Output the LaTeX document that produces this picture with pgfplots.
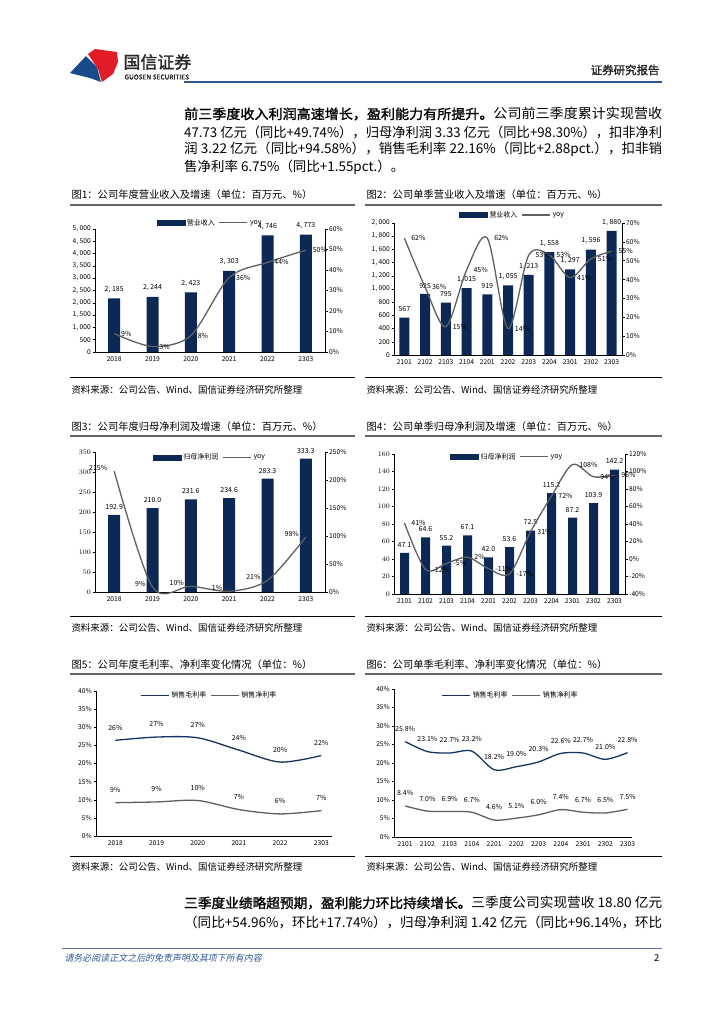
\documentclass[border=0pt]{standalone}
\usepackage{fontspec}
\setmainfont{Noto Sans CJK SC}[BoldFont=Noto Sans CJK SC, BoldFeatures={FakeBold=1.5}, ItalicFont=Noto Sans CJK SC, ItalicFeatures={FakeSlant=0.2}]
\usepackage{pgfplots}
\pgfplotsset{compat=1.18}
\newcommand{\fs}[1]{\fontsize{#1}{#1}\selectfont}
\definecolor{navy}{RGB}{12,40,84}
\definecolor{lgray}{RGB}{96,96,96}
\definecolor{lnavy}{RGB}{22,52,98}
\definecolor{hblue}{RGB}{45,85,150}
\definecolor{lred}{RGB}{225,30,40}
\definecolor{lblue}{RGB}{25,75,140}

\pgfplotsset{
  cbase/.style={scale only axis, anchor=south west, clip=false,
    axis line style={black,line width=0.6bp},
    tick style={black,line width=0.5bp}, major tick length=2.5bp, tick align=outside,
    ticklabel style={font=\fs{6.7}, inner sep=1.5bp},
    xtick style={draw=none}},
  legs/.style={legend style={draw=none, fill=none, font=\fs{7}, legend columns=2, anchor=center,
    inner sep=0pt, /tikz/every even column/.append style={column sep=2bp}}},
  barax/.style={cbase, axis x line*=bottom, axis y line*=left, ybar,
    nodes near coords, point meta=explicit symbolic,
    every node near coord/.append style={font=\fs{7}, text=black, yshift=2bp}},
  lineax/.style={cbase, legs, axis y line*=right, hide x axis, point meta=explicit symbolic},
  barleg/.style={legend image code/.code={\fill[navy] (0bp,-2.5bp) rectangle (28bp,2.5bp);}},
  gline/.style={lgray, line width=1.3bp, smooth,
    legend image code/.code={\draw[lgray,line width=1.2bp] (0bp,0bp) -- (28bp,0bp);}},
  nline/.style={lnavy, line width=1.3bp, smooth,
    legend image code/.code={\draw[lnavy,line width=1.2bp] (0bp,0bp) -- (28bp,0bp);}},
  labr/.style={nodes near coords, every node near coord/.append style={anchor=west, xshift=3bp, font=\fs{7}, text=black}},
  labl/.style={nodes near coords, every node near coord/.append style={anchor=east, xshift=-3bp, yshift=3bp, font=\fs{7}, text=black}},
  labu/.style={nodes near coords, every node near coord/.append style={anchor=south, yshift=6bp, font=\fs{7}, text=black}},
}

\begin{document}
\begin{tikzpicture}[x=1bp,y=-1bp]
\fill[white] (0,0) rectangle (724,1024);
\path[use as bounding box] (0,0) rectangle (724,1024);

% header
\fill[lblue] (70,73) -- (86,56) -- (97,67) -- (101,82) -- (90,78) -- cycle;
\fill[lred] (88,54) -- (95,49) -- (117,52) -- (118,62) -- (113,74) -- (102,82) -- (98,69) -- cycle;
\node[anchor=west, font=\fs{17}\bfseries, text=black!85] at (120,62) {国信证券};
\node[anchor=west, font=\fs{6.6}\bfseries, text=black!85] at (121,77) {GUOSEN SECURITIES};
\node[anchor=east, font=\fs{11.5}\bfseries, text=black!85] at (663,70) {证券研究报告};
\draw[hblue, line width=1.5bp] (184,82) -- (662,82);

% paragraph 1
\node[anchor=west, inner sep=0pt] at (184,114) {\resizebox{478bp}{\height}{\fs{13.5}{\bfseries 前三季度收入利润高速增长，盈利能力有所提升。}公司前三季度累计实现营收}};
\node[anchor=west, inner sep=0pt] at (184,132) {\resizebox{478bp}{\height}{\fs{13.5}47.73 亿元（同比+49.74\%），归母净利润 3.33 亿元（同比+98.30\%），扣非净利}};
\node[anchor=west, inner sep=0pt] at (184,149.5) {\resizebox{478bp}{\height}{\fs{13.5}润 3.22 亿元（同比+94.58\%），销售毛利率 22.16\%（同比+2.88pct.），扣非销}};
\node[anchor=west, inner sep=0pt] at (184,167) {\fs{13.5}售净利率 6.75\%（同比+1.55pct.）。};

% frames and titles
\foreach \xa/\xb in {70/355, 365/662} {
  \draw[black!60, line width=1.5bp] (\xa,205) -- (\xb,205);
  \draw[black!60, line width=1.5bp] (\xa,436) -- (\xb,436);
  \draw[black!60, line width=1.5bp] (\xa,674) -- (\xb,674);
  \draw[black, line width=0.8bp] (\xa,377) -- (\xb,377);
  \draw[black, line width=0.8bp] (\xa,616) -- (\xb,616);
  \draw[black, line width=0.8bp] (\xa,856) -- (\xb,856);
  \node[anchor=west, font=\fs{9.5}] at (\xa-2,390) {资料来源：公司公告、Wind、国信证券经济研究所整理};
  \node[anchor=west, font=\fs{9.5}] at (\xa-2,628) {资料来源：公司公告、Wind、国信证券经济研究所整理};
  \node[anchor=west, font=\fs{9.5}] at (\xa-2,867) {资料来源：公司公告、Wind、国信证券经济研究所整理};
}
\node[anchor=west, font=\fs{10.3}] at (68,195) {图1：公司年度营业收入及增速（单位：百万元、\%）};
\node[anchor=west, font=\fs{10.3}] at (363,195) {图2：公司单季营业收入及增速（单位：百万元、\%）};
\node[anchor=west, font=\fs{10.3}] at (68,427) {图3：公司年度归母净利润及增速（单位：百万元、\%）};
\node[anchor=west, font=\fs{10.3}] at (363,427) {图4：公司单季归母净利润及增速（单位：百万元、\%）};
\node[anchor=west, font=\fs{10.3}] at (68,665) {图5：公司年度毛利率、净利率变化情况（单位：\%）};
\node[anchor=west, font=\fs{10.3}] at (363,665) {图6：公司单季毛利率、净利率变化情况（单位：\%）};

% chart 1
\begin{axis}[barax, at={(95bp,-352bp)}, width=230bp, height=123bp,
  xmin=-0.5, xmax=5.5, ymin=0, ymax=5000, bar width=12bp,
  xtick={0,...,5}, xticklabels={2018,2019,2020,2021,2022,2303},
  ytick={0,500,...,5000},
  yticklabels={0,500,{1, 000},{1, 500},{2, 000},{2, 500},{3, 000},{3, 500},{4, 000},{4, 500},{5, 000}}]
\addplot[fill=navy, draw=none] coordinates {(0,2185)[{2, 185}] (1,2244)[{2, 244}] (2,2423)[{2, 423}] (3,3303)[{3, 303}] (4,4746)[{4, 746}] (5,4773)[{4, 773}]};
\end{axis}
\begin{axis}[lineax, at={(95bp,-352bp)}, width=230bp, height=123bp,
  xmin=-0.5, xmax=5.5, ymin=0, ymax=60, ytick={0,10,...,60},
  yticklabels={0\%,10\%,20\%,30\%,40\%,50\%,60\%}, legend style={at={(0.5,1.05)}}]
\addlegendimage{barleg}\addlegendentry{营业收入}
\addplot[gline, labr] coordinates {(0,9)[9\%] (1,2.7)[3\%] (2,8)[8\%] (3,36.3)[36\%] (4,43.7)[44\%] (5,49.7)[50\%]};
\addlegendentry{yoy}
\end{axis}

% chart 2
\begin{axis}[barax, at={(394bp,-355bp)}, width=228bp, height=132bp,
  xmin=-0.5, xmax=10.5, ymin=0, ymax=2000, bar width=10bp,
  xtick={0,...,10}, xticklabels={2101,2102,2103,2104,2201,2202,2203,2204,2301,2302,2303},
  ytick={0,200,...,2000},
  yticklabels={0,200,400,600,800,{1, 000},{1, 200},{1, 400},{1, 600},{1, 800},{2, 000}}]
\addplot[fill=navy, draw=none] coordinates {(0,567)[567] (1,925)[925] (2,795)[795] (3,1015)[{1, 015}] (4,919)[919] (5,1055)[{1, 055}] (6,1213)[{1, 213}] (7,1558)[{1, 558}] (8,1297)[{1, 297}] (9,1596)[{1, 596}] (10,1880)[{1, 880}]};
\end{axis}
\begin{axis}[lineax, at={(394bp,-355bp)}, width=228bp, height=132bp,
  xmin=-0.5, xmax=10.5, ymin=0, ymax=70, ytick={0,10,...,70},
  yticklabels={0\%,10\%,20\%,30\%,40\%,50\%,60\%,70\%}, legend style={at={(0.52,1.06)}}]
\addlegendimage{barleg}\addlegendentry{营业收入}
\addplot[gline, labr] coordinates {(0,62)[62\%] (1,36)[36\%] (2,15)[15\%] (3,45)[45\%] (4,62)[62\%] (5,14)[14\%] (6,53)[53\%] (7,53)[53\%] (8,41)[41\%] (9,51)[51\%] (10,55)[55\%]};
\addlegendentry{yoy}
\end{axis}

% chart 3
\begin{axis}[barax, at={(95bp,-592bp)}, width=230bp, height=140bp,
  xmin=-0.5, xmax=5.5, ymin=0, ymax=350, bar width=12bp,
  xtick={0,...,5}, xticklabels={2018,2019,2020,2021,2022,2303},
  ytick={0,50,...,350}]
\addplot[fill=navy, draw=none] coordinates {(0,192.9)[192.9] (1,210.0)[210.0] (2,231.6)[231.6] (3,234.6)[234.6] (4,283.3)[283.3] (5,333.3)[333.3]};
\end{axis}
\begin{axis}[lineax, at={(95bp,-592bp)}, width=230bp, height=140bp,
  xmin=-0.5, xmax=5.5, ymin=0, ymax=250, ytick={0,50,...,250},
  yticklabels={0\%,50\%,100\%,150\%,200\%,250\%}, legend style={at={(0.5,0.96)}}]
\addlegendimage{barleg}\addlegendentry{归母净利润}
\addplot[gline, labl] coordinates {(0,216)[215\%] (1,8.9)[9\%] (2,10.3)[10\%] (3,1.3)[1\%] (4,20.8)[21\%] (5,98.3)[98\%]};
\addlegendentry{yoy}
\end{axis}

% chart 4
\begin{axis}[barax, at={(394bp,-594bp)}, width=231bp, height=140bp,
  xmin=-0.5, xmax=10.5, ymin=0, ymax=160, bar width=9bp,
  xtick={0,...,10}, xticklabels={2101,2102,2103,2104,2201,2202,2203,2204,2301,2302,2303},
  ytick={0,20,...,160}]
\addplot[fill=navy, draw=none] coordinates {(0,47.1)[47.1] (1,64.6)[64.6] (2,55.2)[55.2] (3,67.1)[67.1] (4,42.0)[42.0] (5,53.6)[53.6] (6,72.5)[72.5] (7,115.2)[115.2] (8,87.2)[87.2] (9,103.9)[103.9] (10,142.2)[142.2]};
\end{axis}
\begin{axis}[lineax, at={(394bp,-594bp)}, width=231bp, height=140bp,
  xmin=-0.5, xmax=10.5, ymin=-40, ymax=120, ytick={-40,-20,...,120},
  yticklabels={-40\%,-20\%,0\%,20\%,40\%,60\%,80\%,100\%,120\%}, legend style={at={(0.49,0.98)}}]
\addlegendimage{barleg}\addlegendentry{归母净利润}
\addplot[gline, labr] coordinates {(0,41)[41\%] (1,-12)[-12\%] (2,-5)[-5\%] (3,2)[2\%] (4,-11)[-11\%] (5,-17)[-17\%] (6,31)[31\%] (7,72)[72\%] (8,108)[108\%] (9,94)[94\%] (10,96)[96\%]};
\addlegendentry{yoy}
\end{axis}

% chart 5
\begin{axis}[cbase, legs, at={(96bp,-836bp)}, width=236bp, height=145bp,
  xmin=-0.47, xmax=5.26, ymin=0, ymax=40, axis x line*=bottom, axis y line*=left,
  xtick={0,...,5}, xticklabels={2018,2019,2020,2021,2022,2303},
  ytick={0,5,...,40}, yticklabels={0\%,5\%,10\%,15\%,20\%,25\%,30\%,35\%,40\%},
  point meta=explicit symbolic, legend style={at={(0.48,0.97)}}]
\addplot[nline, labu] coordinates {(0,26.4)[26\%] (1,27.3)[27\%] (2,27.1)[27\%] (3,23.7)[24\%] (4,20.4)[20\%] (5,22.2)[22\%]};
\addlegendentry{销售毛利率}
\addplot[gline, labu] coordinates {(0,9.2)[9\%] (1,9.4)[9\%] (2,9.8)[10\%] (3,7.3)[7\%] (4,6.1)[6\%] (5,7.0)[7\%]};
\addlegendentry{销售净利率}
\end{axis}

% chart 6
\begin{axis}[cbase, legs, at={(394bp,-837bp)}, width=238bp, height=148bp,
  xmin=-0.5, xmax=10.2, ymin=0, ymax=40, axis x line*=bottom, axis y line*=left,
  xtick={0,...,10}, xticklabels={2101,2102,2103,2104,2201,2202,2203,2204,2301,2302,2303},
  ytick={0,5,...,40}, yticklabels={0\%,5\%,10\%,15\%,20\%,25\%,30\%,35\%,40\%},
  point meta=explicit symbolic, legend style={at={(0.49,0.955)}}]
\addplot[nline, labu] coordinates {(0,25.8)[25.8\%] (1,23.1)[23.1\%] (2,22.7)[22.7\%] (3,23.2)[23.2\%] (4,18.2)[18.2\%] (5,19.0)[19.0\%] (6,20.3)[20.3\%] (7,22.6)[22.6\%] (8,22.7)[22.7\%] (9,21.0)[21.0\%] (10,22.8)[22.8\%]};
\addlegendentry{销售毛利率}
\addplot[gline, labu] coordinates {(0,8.4)[8.4\%] (1,7.0)[7.0\%] (2,6.9)[6.9\%] (3,6.7)[6.7\%] (4,4.6)[4.6\%] (5,5.1)[5.1\%] (6,6.0)[6.0\%] (7,7.4)[7.4\%] (8,6.7)[6.7\%] (9,6.5)[6.5\%] (10,7.5)[7.5\%]};
\addlegendentry{销售净利率}
\end{axis}

% paragraph 2
\node[anchor=west, inner sep=0pt] at (184,903) {\resizebox{478bp}{\height}{\fs{13.5}{\bfseries 三季度业绩略超预期，盈利能力环比持续增长。}三季度公司实现营收 18.80 亿元}};
\node[anchor=west, inner sep=0pt] at (184,922) {\resizebox{478bp}{\height}{\fs{13.5}（同比+54.96\%，环比+17.74\%），归母净利润 1.42 亿元（同比+96.14\%，环比}};

% footer
\draw[hblue!80, line width=0.7bp] (62,948) -- (662,948);
\node[anchor=west, font=\fs{9}\itshape, text=hblue] at (61,958) {请务必阅读正文之后的免责声明及其项下所有内容};
\node[anchor=east, font=\fs{9.5}] at (663,958) {2};
\end{tikzpicture}
\end{document}
